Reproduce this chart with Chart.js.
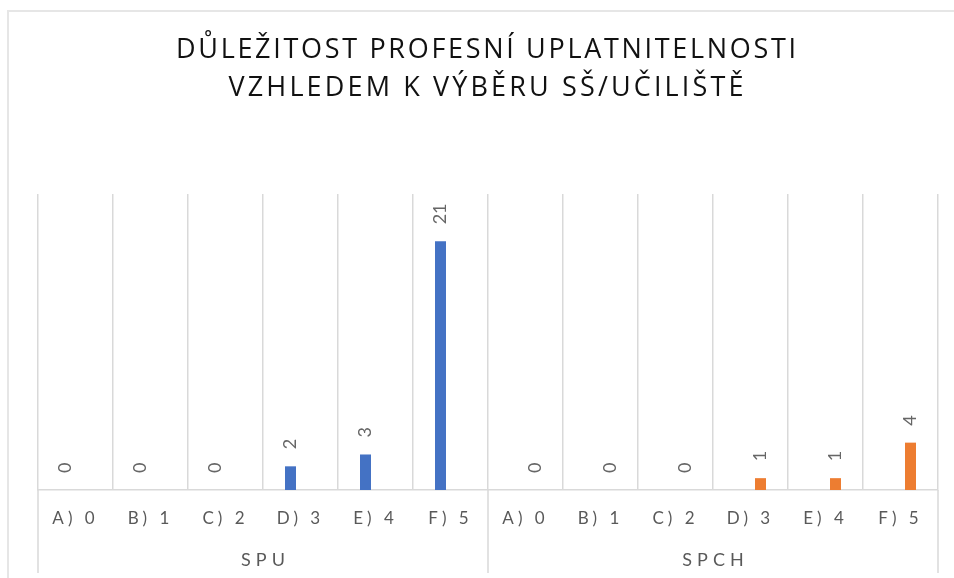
<!DOCTYPE html>
<html>
<head>
<meta charset="utf-8">
<script src="https://cdn.jsdelivr.net/npm/chart.js@4.4.1/dist/chart.umd.min.js"></script>
<style>
  html, body { margin: 0; padding: 0; background: #fff; overflow: hidden; }
  .wrap { position: relative; width: 954px; height: 578px; }
  .frame { position: absolute; left: 7px; top: 10px; width: 1000px; height: 1000px; border: 2px solid #e6e6e6; box-sizing: border-box; }
  canvas { position: absolute; left: 0; top: 0; }
</style>
</head>
<body>
<div class="wrap">
  <div class="frame"></div>
  <canvas id="chart" width="954" height="578"></canvas>
</div>
<script>
const titleLines = ['DŮLEŽITOST PROFESNÍ UPLATNITELNOSTI', 'VZHLEDEM K VÝBĚRU SŠ/UČILIŠTĚ'];
const categories = ['A) 0', 'B) 1', 'C) 2', 'D) 3', 'E) 4', 'F) 5', 'A) 0', 'B) 1', 'C) 2', 'D) 3', 'E) 4', 'F) 5'];
const groups = ['SPU', 'SPCH'];
const spuValues = [0, 0, 0, 2, 3, 21, null, null, null, null, null, null];
const spchValues = [null, null, null, null, null, null, 0, 0, 0, 1, 1, 4];

const gray = '#595959';
const lineGray = '#d9d9d9';

// spacing like the excel text
const spacing = {
    id: 'spacing',
    beforeDraw(chart) {
        chart.ctx.letterSpacing = '4px';
    },
    beforeDatasetsDraw(chart) {
        chart.ctx.letterSpacing = '0px';
    }
};

const barLabels = {
    id: 'barLabels',
    afterDatasetsDraw(chart) {
        const ctx = chart.ctx;
        ctx.save();
        ctx.font = '18px Lato';
        ctx.fillStyle = '#666';
        ctx.textAlign = 'left';
        ctx.textBaseline = 'middle';
        chart.data.datasets.forEach((ds, i) => {
            chart.getDatasetMeta(i).data.forEach((bar, j) => {
                const v = ds.data[j];
                if (v === null) return;
                ctx.save();
                ctx.translate(bar.x, bar.y - 17);
                ctx.rotate(-Math.PI / 2);
                ctx.fillText(String(v), 0, 0);
                ctx.restore();
            });
        });
        ctx.restore();
    }
};

const groupAxis = {
    id: 'groupAxis',
    afterDraw(chart) {
        const ctx = chart.ctx;
        const x = chart.scales.x;
        const half = (x.getPixelForValue(1) - x.getPixelForValue(0)) / 2;
        const per = categories.length / groups.length;
        ctx.save();
        ctx.strokeStyle = lineGray;
        ctx.lineWidth = 1.5;
        for (let g = 0; g <= groups.length; g++) {
            const idx = Math.min(g * per, categories.length - 1);
            const px = g * per < categories.length ? x.getPixelForValue(idx) - half : x.getPixelForValue(idx) + half;
            ctx.beginPath();
            ctx.moveTo(px, chart.chartArea.bottom);
            ctx.lineTo(px, 573);
            ctx.stroke();
        }
        ctx.font = '18px Lato';
        ctx.fillStyle = gray;
        ctx.textAlign = 'center';
        ctx.textBaseline = 'middle';
        ctx.letterSpacing = '5px';
        groups.forEach((g, i) => {
            const first = x.getPixelForValue(i * per) - half;
            const last = x.getPixelForValue(i * per + per - 1) + half;
            ctx.fillText(g, (first + last) / 2 + 2.5, 560);
        });

        // title
        ctx.font = '27px "Open Sans"';
        ctx.fillStyle = '#111';
        const widths = [620, 515];
        const ys = [50, 88];
        titleLines.forEach((t, i) => {
            ctx.letterSpacing = '0px';
            const w = ctx.measureText(t).width;
            const s = (widths[i] - w) / (t.length - 1);
            ctx.letterSpacing = s + 'px';
            ctx.fillText(t, 486 + s / 2, ys[i]);
        });
        ctx.restore();
    }
};

new Chart(document.getElementById('chart'), {
    type: 'bar',
    data: {
        labels: categories,
        datasets: [
            { label: 'SPU', data: spuValues, backgroundColor: '#4472C4' },
            { label: 'SPCH', data: spchValues, backgroundColor: '#ED7D31' }
        ]
    },
    options: {
        responsive: false,
        animation: false,
        devicePixelRatio: 1,
        categoryPercentage: 40 / 75,
        barPercentage: 0.55,
        layout: { padding: { left: 38, right: 16, top: 194, bottom: 0 } },
        plugins: {
            legend: { display: false },
            tooltip: { enabled: false },
            title: { display: false }
        },
        scales: {
            x: {
                offset: true,
                grid: { display: true, offset: true, color: lineGray, lineWidth: 1.5, drawTicks: false },
                border: { display: true, color: lineGray, width: 1.5 },
                ticks: { color: gray, font: { family: 'Lato', size: 17 }, padding: 18, maxRotation: 0, autoSkip: false },
                afterFit(scale) { scale.height = 88; }
            },
            y: { display: false, min: 0, max: 25 }
        }
    },
    plugins: [spacing, barLabels, groupAxis]
});
</script>
</body>
</html>
